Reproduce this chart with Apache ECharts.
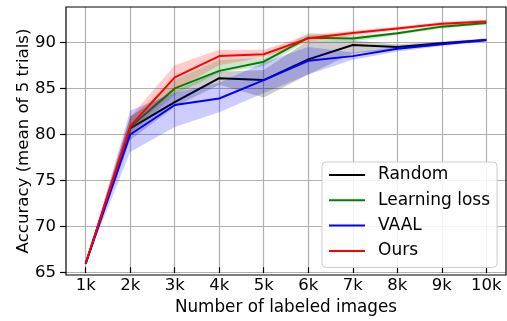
<!DOCTYPE html>
<html>
<head>
<meta charset="utf-8">
<script src="https://cdn.jsdelivr.net/npm/echarts@6/dist/echarts.min.js"></script>
<style>
  html, body { margin: 0; padding: 0; background: #fff; }
  #chart { width: 507px; height: 321px; }
</style>
</head>
<body>
<div id="chart"></div>
<script>
var myChart = echarts.init(document.getElementById('chart'));

// labeled images, in thousands
let sizes = [1, 2, 3, 4, 5, 6, 7, 8, 9, 10];
let yTicks = [65, 70, 75, 80, 85, 90];

// mean accuracy and band (low / high) per method
let random   = [66.0, 80.65, 83.5, 86.1, 85.9, 88.15, 89.7, 89.5, 89.9, 90.25];
let randomLo = [66.0, 79.4, 83.0, 85.4, 84.0, 86.5, 88.8, 89.2, 89.7, 90.1];
let randomHi = [66.0, 82.0, 84.8, 86.8, 87.0, 90.2, 90.2, 89.8, 90.1, 90.4];

let lloss   = [66.0, 80.8, 85.0, 86.9, 87.9, 90.5, 90.4, 90.97, 91.7, 92.1];
let llossLo = [66.0, 80.0, 84.3, 86.7, 87.4, 90.25, 90.1, 90.8, 91.5, 91.9];
let llossHi = [66.0, 81.8, 85.9, 88.1, 88.3, 91.0, 90.7, 91.1, 91.9, 92.3];

let vaal   = [66.0, 80.0, 83.2, 83.9, 85.9, 88.0, 88.5, 89.3, 89.8, 90.25];
let vaalLo = [66.0, 78.1, 80.8, 82.4, 84.5, 86.5, 88.1, 89.0, 89.6, 90.1];
let vaalHi = [66.0, 82.6, 84.5, 85.6, 87.8, 89.5, 88.9, 89.5, 90.0, 90.4];

let ours   = [66.0, 80.9, 86.2, 88.5, 88.7, 90.43, 91.0, 91.5, 92.0, 92.25];
let oursLo = [66.0, 80.3, 84.8, 87.5, 88.4, 90.05, 90.75, 91.3, 91.8, 92.1];
let oursHi = [66.0, 81.9, 87.5, 89.2, 89.2, 90.8, 91.25, 91.7, 92.2, 92.45];

let names  = ['Random', 'Learning loss', 'VAAL', 'Ours'];
let colors = ['#000000', '#008000', '#0000ff', '#ff0000'];
let bandColors = ['rgba(0,0,0,0.2)', 'rgba(0,128,0,0.2)', 'rgba(0,0,255,0.2)', 'rgba(255,0,0,0.2)'];
let means = [random, lloss, vaal, ours];
let lows  = [randomLo, llossLo, vaalLo, oursLo];
let highs = [randomHi, llossHi, vaalHi, oursHi];

function pairs(xs, ys) {
    return xs.map(function (x, i) { return [x, ys[i]]; });
}

// shaded band between low and high, placed with the axis scales
function bandRenderer(lo, hi, fill) {
    return function (params, api) {
        var pts = [];
        for (var j = 0; j < sizes.length; j++) pts.push(api.coord([sizes[j], hi[j]]));
        for (var k = sizes.length - 1; k >= 0; k--) pts.push(api.coord([sizes[k], lo[k]]));
        return { type: 'polygon', shape: { points: pts }, style: { fill: fill } };
    };
}

var font = 'DejaVu Sans';
var series = [];
for (var i = 0; i < names.length; i++) {
    series.push({
        name: 'band' + i, type: 'custom', xAxisIndex: 3, yAxisIndex: 3,
        silent: true, clip: false, data: [[sizes[0], lows[i][0]]],
        renderItem: bandRenderer(lows[i], highs[i], bandColors[i]),
        z: 2 + i * 2
    });
    series.push({
        name: names[i], type: 'line', xAxisIndex: 3, yAxisIndex: 3,
        symbol: 'none', color: colors[i], clip: false,
        lineStyle: { color: colors[i], width: 2 },
        data: pairs(sizes, means[i]), z: 3 + i * 2
    });
}

option = {
    animation: false,
    backgroundColor: '#fff',
    textStyle: { fontFamily: font },
    grid: [
        // x ticks, vertical grid lines: 1k..10k over the full plot height
        { left: 85.7, width: 400.6, top: 7, height: 268 },
        // y ticks, horizontal grid lines: 65..90 over the full plot width
        { left: 66, width: 440, top: 42.3, height: 230.4 },
        // frame
        { left: 66, width: 440, top: 7, height: 268, show: true, borderColor: '#000', borderWidth: 1.2, z: 10 },
        // data: 1k..10k by 65..90
        { left: 85.7, width: 400.6, top: 42.3, height: 230.4 }
    ],
    xAxis: [
        {
            gridIndex: 0, type: 'value', min: 1, max: 10, interval: 1,
            axisLine: { show: false },
            axisTick: { show: true, inside: false, length: 6, lineStyle: { color: '#000', width: 1.2 } },
            axisLabel: { formatter: '{value}k', color: '#000', fontSize: 16.5, margin: 10, fontFamily: font },
            splitLine: { show: true, lineStyle: { color: '#b0b0b0', width: 1.2 } },
            name: 'Number of labeled images', nameLocation: 'middle', nameGap: 30,
            nameTextStyle: { color: '#000', fontSize: 16.8, fontFamily: font }
        },
        { gridIndex: 1, type: 'value', min: 0, max: 1, show: false },
        { gridIndex: 2, type: 'value', min: 0, max: 1, show: false },
        { gridIndex: 3, type: 'value', min: 1, max: 10, interval: 1, show: false }
    ],
    yAxis: [
        { gridIndex: 0, type: 'value', min: 0, max: 1, show: false },
        {
            gridIndex: 1, type: 'value', min: yTicks[0], max: yTicks[yTicks.length - 1], interval: 5,
            axisLine: { show: false },
            axisTick: { show: true, inside: false, length: 6, lineStyle: { color: '#000', width: 1.2 } },
            axisLabel: { color: '#000', fontSize: 16.5, margin: 10, fontFamily: font },
            splitLine: { show: true, lineStyle: { color: '#b0b0b0', width: 1.2 } }
        },
        {
            gridIndex: 2, type: 'value', min: 0, max: 1,
            axisLine: { show: false }, axisTick: { show: false },
            axisLabel: { show: false }, splitLine: { show: false },
            name: 'Accuracy (mean of 5 trials)', nameLocation: 'middle', nameGap: 34,
            nameTextStyle: { color: '#000', fontSize: 16.6, fontFamily: font }
        },
        { gridIndex: 3, type: 'value', min: yTicks[0], max: yTicks[yTicks.length - 1], interval: 5, show: false }
    ],
    legend: {
        data: names,
        orient: 'vertical',
        left: 322, top: 162,
        itemWidth: 36, itemHeight: 17, itemGap: 8.3,
        padding: [4.5, 7, 8, 6],
        backgroundColor: 'rgba(255,255,255,0.85)',
        borderColor: '#cccccc', borderWidth: 1, borderRadius: 4,
        itemStyle: { opacity: 0 },
        textStyle: { color: '#000', fontSize: 17, lineHeight: 17, fontFamily: font, padding: [0, 0, 0, 8] },
        z: 20
    },
    series: series
};

myChart.setOption(option);
</script>
</body>
</html>
